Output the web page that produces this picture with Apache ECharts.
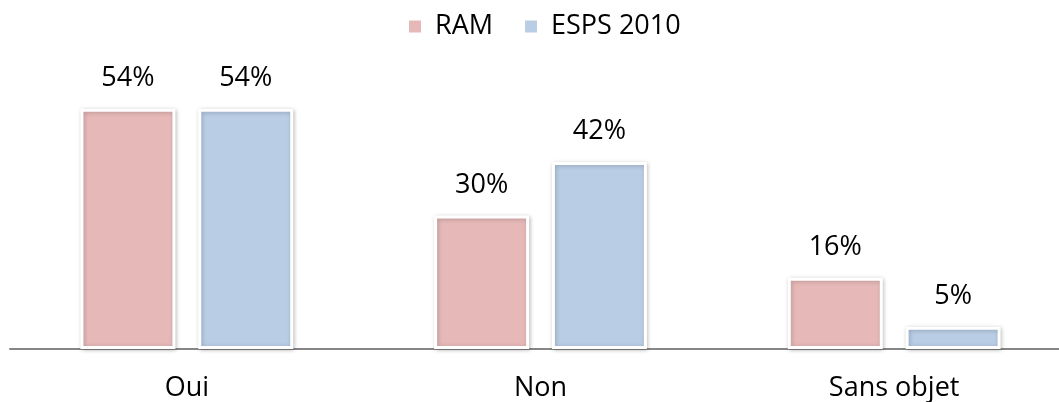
<!DOCTYPE html>
<html>
<head>
<meta charset="utf-8">
<script src="https://cdn.jsdelivr.net/npm/echarts@6/dist/echarts.min.js"></script>
<style>html,body{margin:0;padding:0;background:#fff;}#c{width:1059px;height:402px;}</style>
</head>
<body>
<div id="c"></div>
<script>
const categories = ['Oui', 'Non', 'Sans objet'];
const seriesNames = ['RAM', 'ESPS 2010'];
const ramValues = [54, 30, 16];
const espsValues = [54, 42, 5];

const FONT = '"Open Sans", sans-serif';
const colors = ['#E6B9B8', '#B9CDE5'];

function makeSeries(name, data, color) {
  return {
    name: name,
    type: 'bar',
    data: data,
    barWidth: 95,
    barGap: '24%',
    itemStyle: {
      color: color,
      borderColor: '#ffffff',
      borderWidth: 3,
      shadowBlur: 4,
      shadowOffsetX: 1,
      shadowOffsetY: 1,
      shadowColor: 'rgba(0,0,0,0.22)'
    },
    label: {
      show: true,
      position: 'top',
      distance: 17,
      formatter: '{c}%',
      color: '#000',
      fontFamily: FONT,
      fontSize: 27,
      lineHeight: 27
    },
    emphasis: { disabled: true }
  };
}

const chart = echarts.init(document.getElementById('c'), null, { renderer: 'canvas' });
chart.setOption({
  animation: false,
  backgroundColor: '#ffffff',
  legend: {
    data: seriesNames,
    left: 407,
    top: 13,
    padding: 0,
    itemWidth: 14,
    itemHeight: 14,
    itemGap: 30,
    icon: 'rect',
    textStyle: { color: '#000', fontFamily: FONT, fontSize: 27, lineHeight: 27, padding: [0, 0, 0, 8] }
  },
  grid: { left: 10, top: 82, right: -12, bottom: 53, containLabel: false, outerBoundsMode: 'none' },
  xAxis: {
    type: 'category',
    data: categories,
    axisLine: { show: true, lineStyle: { color: '#868686', width: 2 } },
    axisTick: { show: false },
    axisLabel: { color: '#000', fontFamily: FONT, fontSize: 27, lineHeight: 27, margin: 26 }
  },
  yAxis: {
    type: 'value',
    min: 0,
    max: 60,
    show: false,
    splitLine: { show: false }
  },
  series: [
    makeSeries(seriesNames[0], ramValues, colors[0]),
    makeSeries(seriesNames[1], espsValues, colors[1])
  ]
});
</script>
</body>
</html>
